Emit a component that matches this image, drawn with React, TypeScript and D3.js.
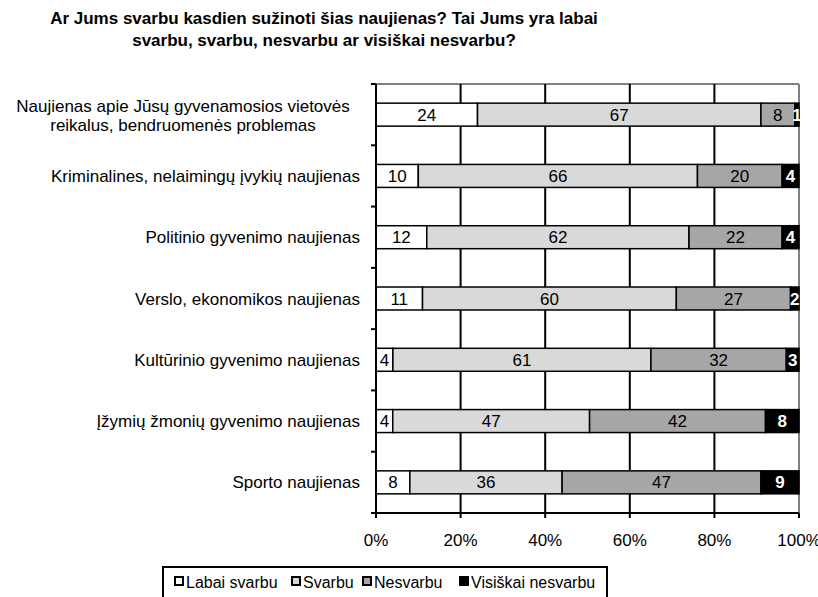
import React from 'react'
import * as d3 from 'd3'

const categories = [
  ['Naujienas apie Jūsų gyvenamosios vietovės', 'reikalus, bendruomenės problemas'],
  ['Kriminalines, nelaimingų įvykių naujienas'],
  ['Politinio gyvenimo naujienas'],
  ['Verslo, ekonomikos naujienas'],
  ['Kultūrinio gyvenimo naujienas'],
  ['Įžymių žmonių gyvenimo naujienas'],
  ['Sporto naujienas'],
]
const seriesNames = ['Labai svarbu', 'Svarbu', 'Nesvarbu', 'Visiškai nesvarbu']
const labaiSvarbu = [24, 10, 12, 11, 4, 4, 8]
const svarbu = [67, 66, 62, 60, 61, 47, 36]
const nesvarbu = [8, 20, 22, 27, 32, 42, 47]
const visiskaiNesvarbu = [1, 4, 4, 2, 3, 8, 9]
const xTicks = [0, 20, 40, 60, 80, 100]

const colors = ['#ffffff', '#d9d9d9', '#a6a6a6', '#000000']
const font = 'Liberation Sans, Arial, sans-serif'

export default function App() {
  const width = 818
  const height = 597
  const m = { left: 376, right: 799, top: 84, bottom: 513 }
  const fs = 17

  const x = d3.scaleLinear().domain([0, 100]).range([m.left, m.right])
  const y = d3.scaleBand<number>().domain(d3.range(categories.length)).range([m.top, m.bottom])
  const barH = y.bandwidth() * 0.375

  const rows = categories.map((c, i) => {
    const vals = [labaiSvarbu[i], svarbu[i], nesvarbu[i], visiskaiNesvarbu[i]]
    const total = d3.sum(vals)
    let acc = 0
    return vals.map((v, k) => {
      const x0 = (acc / total) * 100
      acc += v
      const x1 = (acc / total) * 100
      return { v, k, x0, x1 }
    })
  })

  // legend layout
  const legendX = [175, 292, 363, 460]

  return (
    <svg width={width} height={height} style={{ position: 'absolute', left: 0, top: 0 }} fontFamily={font}>
      <rect width={width} height={height} fill="#fff" />
      <text x={324} y={24} textAnchor="middle" fontSize={fs} fontWeight="bold">
        Ar Jums svarbu kasdien sužinoti šias naujienas? Tai Jums yra labai
      </text>
      <text x={324} y={46} textAnchor="middle" fontSize={fs} fontWeight="bold">
        svarbu, svarbu, nesvarbu ar visiškai nesvarbu?
      </text>

      {/* plot border */}
      <line x1={m.left} x2={m.right} y1={m.top} y2={m.top} stroke="#808080" strokeWidth={2} />
      <line x1={m.right} x2={m.right} y1={m.top} y2={m.bottom} stroke="#808080" strokeWidth={2} />

      {/* gridlines */}
      {xTicks.filter(t => t > 0 && t < 100).map(t => (
        <line key={t} x1={x(t)} x2={x(t)} y1={m.top} y2={m.bottom} stroke="#000" strokeWidth={2} />
      ))}

      {/* bars */}
      {rows.map((segs, i) => {
        const cy = (y(i) as number) + y.bandwidth() / 2
        return (
          <g key={i}>
            {segs.map(s => (
              <rect key={s.k} x={x(s.x0)} y={cy - barH / 2} width={x(s.x1) - x(s.x0)} height={barH}
                fill={colors[s.k]} stroke="#000" strokeWidth={1.5} />
            ))}
            {segs.map(s => (
              <text key={'t' + s.k} x={(x(s.x0) + x(s.x1)) / 2} y={cy} dy="0.36em" textAnchor="middle"
                fontSize={fs} fill={s.k === 3 ? '#fff' : '#000'} fontWeight={s.k === 3 ? 'bold' : 'normal'}>
                {s.v}
              </text>
            ))}
          </g>
        )
      })}

      {/* y axis */}
      <line x1={m.left} x2={m.left} y1={m.top} y2={m.bottom + 5} stroke="#000" strokeWidth={2} />
      {d3.range(categories.length + 1).map(i => {
        const yy = m.top + i * y.step()
        return <line key={i} x1={m.left - 5} x2={m.left} y1={yy} y2={yy} stroke="#000" strokeWidth={2} />
      })}
      {categories.map((lines, i) => {
        const cy = (y(i) as number) + y.bandwidth() / 2
        if (lines.length === 1) {
          return (
            <text key={i} x={360} y={cy} dy="0.36em" textAnchor="end" fontSize={fs}>{lines[0]}</text>
          )
        }
        return (
          <g key={i}>
            {lines.map((l, j) => (
              <text key={j} x={183} y={cy + 1 + (j - (lines.length - 1) / 2) * 19} dy="0.36em" textAnchor="middle" fontSize={fs}>{l}</text>
            ))}
          </g>
        )
      })}

      {/* x axis */}
      <line x1={m.left} x2={m.right} y1={m.bottom} y2={m.bottom} stroke="#000" strokeWidth={2} />
      {xTicks.map(t => (
        <g key={t}>
          <line x1={x(t)} x2={x(t)} y1={m.bottom} y2={m.bottom + 5} stroke="#000" strokeWidth={2} />
          <text x={x(t)} y={546} textAnchor="middle" fontSize={fs}>{t}%</text>
        </g>
      ))}

      {/* legend */}
      <rect x={163} y={567} width={444} height={34} fill="#fff" stroke="#000" strokeWidth={2} />
      {seriesNames.map((n, k) => (
        <g key={n}>
          <rect x={legendX[k]} y={577} width={8} height={8} fill={colors[k]} stroke="#000" strokeWidth={2} />
          <text x={legendX[k] + 11} y={588} fontSize={fs - 1}>{n}</text>
        </g>
      ))}
    </svg>
  )
}
